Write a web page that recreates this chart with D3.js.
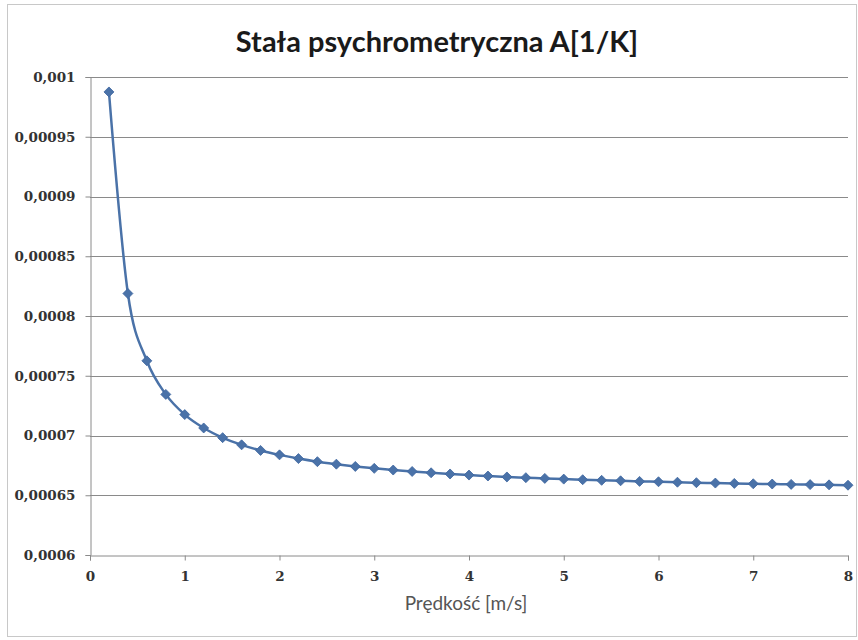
<!DOCTYPE html>
<html>
<head>
<meta charset="utf-8">
<script src="https://cdn.jsdelivr.net/npm/d3@7"></script>
<style>
  body { margin: 0; background: #fff; }
</style>
</head>
<body>
<script>
// predkosc [m/s]
var predkosc = [0.2, 0.4, 0.6, 0.8, 1.0, 1.2, 1.4, 1.6, 1.8, 2.0,
                2.2, 2.4, 2.6, 2.8, 3.0, 3.2, 3.4, 3.6, 3.8, 4.0,
                4.2, 4.4, 4.6, 4.8, 5.0, 5.2, 5.4, 5.6, 5.8, 6.0,
                6.2, 6.4, 6.6, 6.8, 7.0, 7.2, 7.4, 7.6, 7.8, 8.0];

// stala psychrometryczna A [1/K]
var stalaA = [0.0009875, 0.0008188, 0.0007625, 0.0007344, 0.0007175, 0.0007063, 0.0006982, 0.0006922, 0.0006875, 0.0006838,
              0.0006807, 0.0006781, 0.0006760, 0.0006741, 0.0006725, 0.0006711, 0.0006699, 0.0006688, 0.0006678, 0.0006669,
              0.0006661, 0.0006653, 0.0006647, 0.0006641, 0.0006635, 0.0006630, 0.0006625, 0.0006621, 0.0006616, 0.0006613,
              0.0006609, 0.0006605, 0.0006602, 0.0006599, 0.0006596, 0.0006594, 0.0006591, 0.0006589, 0.0006587, 0.0006584];

var ticksX = [0, 1, 2, 3, 4, 5, 6, 7, 8];
var ticksY = [0.0006, 0.00065, 0.0007, 0.00075, 0.0008, 0.00085, 0.0009, 0.00095, 0.001];

var tytul = "Stała psychrometryczna A[1/K]";
var tytulX = "Prędkość [m/s]";

var ancho = 858, altura = 640;
var margen = { superior: 77, derecho: 10, inferior: 85, izquierdo: 90 };

var svg = d3.select("body")
    .append("svg")
    .attr("width", ancho)
    .attr("height", altura);

// ramka wykresu
svg.append("rect")
    .attr("x", 7.5).attr("y", 4.5)
    .attr("width", 849).attr("height", 632)
    .attr("fill", "#fff")
    .attr("stroke", "#c8c8c8")
    .attr("stroke-width", 1);

var escalaX = d3.scaleLinear()
    .domain([0, 8])
    .range([margen.izquierdo, ancho - margen.derecho]);

var escalaY = d3.scaleLinear()
    .domain([0.0006, 0.001])
    .range([altura - margen.inferior, margen.superior]);

// linie siatki
svg.append("g")
    .selectAll("line")
    .data(ticksY.slice(1))
    .join("line")
    .attr("x1", escalaX(0)).attr("x2", escalaX(8))
    .attr("y1", function (d) { return Math.round(escalaY(d)) + 0.5; })
    .attr("y2", function (d) { return Math.round(escalaY(d)) + 0.5; })
    .attr("stroke", "#8a8a8a")
    .attr("stroke-width", 1);

// os Y
var ejeY = d3.axisLeft(escalaY)
    .tickValues(ticksY)
    .tickSize(5)
    .tickPadding(10)
    .tickFormat(function (d) { return d.toString().replace(".", ","); });

var gY = svg.append("g")
    .attr("transform", "translate(" + (escalaX(0) + 0.5) + ",0)")
    .call(ejeY);

// os X
var ejeX = d3.axisBottom(escalaX)
    .tickValues(ticksX)
    .tickSize(5)
    .tickPadding(11)
    .tickFormat(d3.format("d"));

var gX = svg.append("g")
    .attr("transform", "translate(0," + (Math.round(escalaY(0.0006)) + 0.5) + ")")
    .call(ejeX);

[gX, gY].forEach(function (g) {
    g.select(".domain").attr("stroke", "#8a8a8a");
    g.selectAll(".tick line").attr("stroke", "#8a8a8a");
    g.selectAll(".tick text")
        .attr("fill", "#333")
        .style("font-family", "'DejaVu Serif', serif")
        .style("font-size", "13.5px")
        .style("font-weight", "bold");
});

var datos = predkosc.map(function (v, i) { return { v: v, a: stalaA[i] }; });

var linea = d3.line()
    .x(function (d) { return escalaX(d.v); })
    .y(function (d) { return escalaY(d.a); })
    .curve(d3.curveMonotoneX);

svg.append("path")
    .datum(datos)
    .attr("d", linea)
    .attr("fill", "none")
    .attr("stroke", "#4a72a8")
    .attr("stroke-width", 2.5);

// znaczniki (romby)
svg.append("g")
    .selectAll("path")
    .data(datos)
    .join("path")
    .attr("transform", function (d) { return "translate(" + escalaX(d.v) + "," + escalaY(d.a) + ")"; })
    .attr("d", "M0,-5L5,0L0,5L-5,0Z")
    .attr("fill", "#4a72a8")
    .attr("stroke", "#3d66a0")
    .attr("stroke-width", 0.8);

// tytul
svg.append("text")
    .attr("x", 437)
    .attr("y", 52)
    .attr("text-anchor", "middle")
    .style("font-family", "Lato, 'Open Sans', sans-serif")
    .style("font-weight", "bold")
    .style("font-size", "29px")
    .attr("fill", "#1a1a1a")
    .text(tytul);

svg.append("text")
    .attr("x", 466)
    .attr("y", 610)
    .attr("text-anchor", "middle")
    .style("font-family", "Lato, 'Open Sans', sans-serif")
    .style("font-size", "19px")
    .attr("fill", "#555")
    .text(tytulX);
</script>
</body>
</html>
